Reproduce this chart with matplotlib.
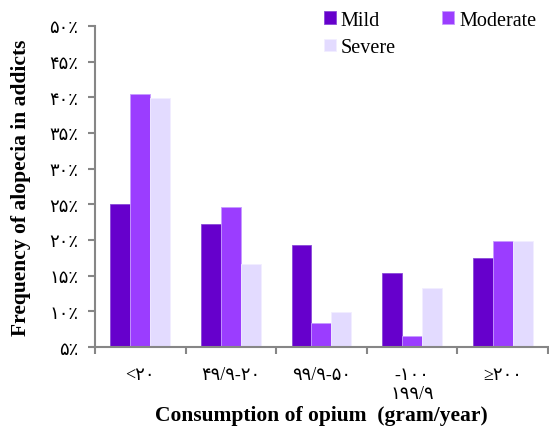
import numpy as np
import matplotlib.pyplot as plt
from matplotlib.ticker import FixedLocator

categories = ['<۲۰', '۴۹/۹-۲۰', '۹۹/۹-۵۰', '-۱۰۰\n۱۹۹/۹', '≥۲۰۰']
mild = [25.1, 22.2, 19.3, 15.4, 17.5]
moderate = [40.4, 24.6, 8.4, 6.5, 19.8]
severe = [39.9, 16.6, 9.9, 13.2, 19.9]
ytick_values = [5, 10, 15, 20, 25, 30, 35, 40, 45, 50]
ytick_labels = ['۵٪', '۱۰٪', '۱۵٪', '۲۰٪', '۲۵٪', '۳۰٪', '۳۵٪', '۴۰٪', '۴۵٪', '۵۰٪']

serif = ['Liberation Serif', 'DejaVu Sans']
plt.rcParams['font.family'] = serif

fig = plt.figure(figsize=(5.49, 4.27), dpi=100)
ax = fig.add_axes([0.173, 0.185, 0.825, 0.752])

x = np.arange(len(categories))
w = 0.22
base = 5
b1 = ax.bar(x - w, np.array(mild) - base, w, bottom=base, color='#6600CC',
            edgecolor='#8a4ad8', linewidth=0.6, label='Mild')
b2 = ax.bar(x, np.array(moderate) - base, w, bottom=base, color='#9B3DFF',
            edgecolor='#c79bff', linewidth=0.6, label='Moderate')
b3 = ax.bar(x + w, np.array(severe) - base, w, bottom=base, color='#E3DBFF',
            edgecolor='#f2eeff', linewidth=0.6, label='Severe')

ax.set_xlim(-0.5, len(categories) - 0.5)
ax.set_ylim(5, 50)
ax.set_yticks(ytick_values)
ax.set_yticklabels(ytick_labels, fontsize=13)
ax.set_xticks(x)
ax.set_xticklabels(categories, fontsize=13, linespacing=1.15)
ax.xaxis.set_minor_locator(FixedLocator(np.arange(-0.5, len(categories), 1)))
ax.tick_params(axis='x', which='major', length=0, pad=14)
ax.tick_params(axis='x', which='minor', length=5, color='#868686', width=1.5)
ax.tick_params(axis='y', length=5, color='#868686', width=1.5, pad=7)

for s in ['top', 'right']:
    ax.spines[s].set_visible(False)
for s in ['left', 'bottom']:
    ax.spines[s].set_color('#868686')
    ax.spines[s].set_linewidth(1.5)

ax.set_ylabel('Frequency of alopecia in addicts', fontsize=15.5,
              fontweight='bold', labelpad=13)
ax.set_xlabel('Consumption of opium  (gram/year)', fontsize=15.5,
              fontweight='bold')
ax.xaxis.set_label_coords(0.5, -0.18)

ax.legend([b1, b3, b2], ['Mild', 'Severe', 'Moderate'], ncol=2,
          loc='upper right', bbox_to_anchor=(1.015, 1.103),
          frameon=False, fontsize=14.5, handlelength=0.6, handleheight=0.6,
          handletextpad=0.25, columnspacing=2.3, labelspacing=0.4)

fig.savefig('out.png', dpi=100, facecolor='white')
